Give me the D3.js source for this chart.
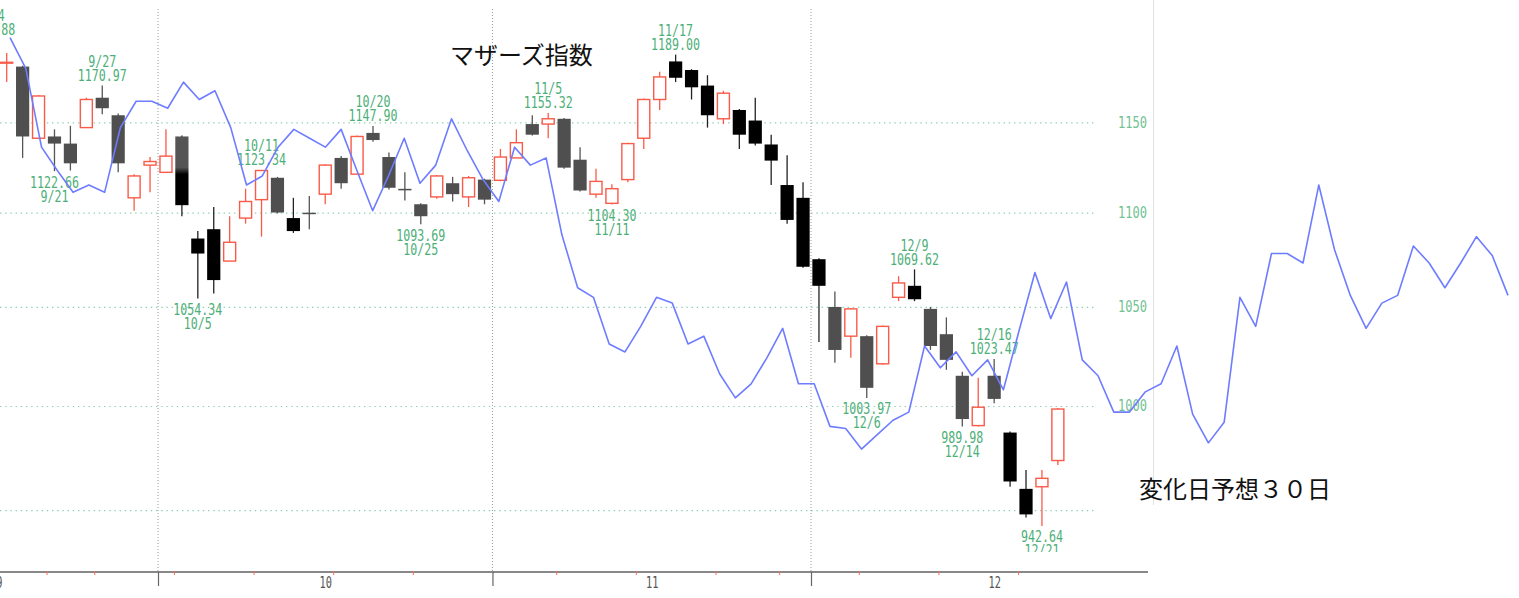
<!DOCTYPE html>
<html><head><meta charset="utf-8">
<script src="https://cdn.jsdelivr.net/npm/d3@7"></script>
<style>html,body{margin:0;padding:0;background:#fff;overflow:hidden}</style>
</head><body><svg id="c" width="1519" height="598"></svg>
<script>
// ---------------- DATA ----------------
const year = 2021;
const dates = ["9/15","9/16","9/17","9/21","9/22","9/24","9/27","9/28","9/29","9/30",
 "10/1","10/4","10/5","10/6","10/7","10/8","10/11","10/12","10/13","10/14","10/15","10/18","10/19","10/20","10/21","10/22","10/25","10/26","10/27","10/28","10/29",
 "11/1","11/2","11/4","11/5","11/8","11/9","11/10","11/11","11/12","11/15","11/16","11/17","11/18","11/19","11/22","11/24","11/25","11/26","11/29","11/30",
 "12/1","12/2","12/3","12/6","12/7","12/8","12/9","12/10","12/13","12/14","12/15","12/16","12/17","12/20","12/21","12/22"];
const opens = [1184,1182,1141,1142,1138,1147,1164,1154,1108,1126,
 1122,1142,1086,1091,1074,1097,1107,1119,1097,1099.5,1110,1130,1121,1144,1130.5,1112.5,1104.5,1108.5,1116,1108.5,1118,
 1117.6,1130,1149,1149,1152,1129,1110,1105,1118,1141,1163,1185,1180,1171,1152,1157,1151,1137.5,1115,1108,
 1075,1050,1035,1035,1021,1055,1061,1049,1036,1015,990.4,1015,987,960,961,973.5];
const highs = [1190,1182.5,1165.5,1146,1148,1164,1170.97,1155,1121,1130.5,
 1146,1142.5,1090,1103,1098,1113,1123.34,1119.5,1108,1109,1126.5,1131,1142.5,1147.90,1133,1122,1105,1120.5,1119.5,1120,1118.5,
 1135,1146,1154,1155.32,1152.5,1136,1124,1115.5,1138.5,1163.5,1179,1189.00,1180.5,1177,1168,1157.5,1164,1143,1131.5,1116.5,
 1075.5,1058,1049.5,1035.5,1040.5,1066,1069.62,1050,1044.6,1017,1014,1023.47,987.5,969,969,999];
const lows = [1173,1130,1141,1122.66,1123,1147,1154.5,1122,1101,1111,
 1122,1098,1054.34,1057,1074,1094,1087,1099.5,1089,1091,1104.5,1113,1121,1139,1112.5,1106.5,1093.69,1107.5,1106,1103,1104.5,
 1117,1130,1142.5,1141,1124,1111.5,1108,1104.30,1116.5,1135,1157,1173,1163,1147,1149,1135,1137,1115,1094,1070.5,
 1032,1021.5,1024,1003.97,1020.5,1053,1053,1028,1018,989.98,990,1001.3,961,946.5,942.64,971.4];
const closes = [1184.5,1142,1165,1138,1127,1163,1158,1127,1120,1128,
 1131,1104,1078,1064,1084,1106,1123,1100,1090,1099,1126,1116,1142,1140,1113.5,1112,1098,1120,1110,1119,1107,
 1130.5,1138.5,1143,1152,1124.6,1112,1117,1113,1138,1163,1176,1175.5,1170,1154,1166.6,1143,1138,1128.5,1096,1071,
 1061,1028,1049,1009,1040,1062.5,1054,1030,1023,993.6,999.4,1003.5,963.5,948,965,998.5];
// forecast line (変化日予想), one value per day from 9/15 onwards
const forecast = [1199,1181,1136,1123,1111,1115,1111,1147,1162,1162,
 1158,1173,1163,1168,1147,1115,1120,1136,1146,1141,
 1136,1146,1123,1101,1120,1141,1116,1126,1152,1134,
 1118,1106,1136,1126,1130,1088,1060,1055,1031,1027,
 1040,1055,1052,1031,1035,1016,1004,1011,1024,1039,
 1011,1011,990,989,979,986,993,997,1030,1019,
 1027,1015,1023,1008,1038,1068,1044,1063,1023,1015,
 997,997,1007,1011,1030,996,982,992,1055,1040,
 1078,1078,1073,1115,1080,1056,1039,1052,1056,1082,
 1073,1060,1073,1087,1077,1056];
const gridValues = [950,1000,1050,1100,1150];
const yLabelValues = [1000,1050,1100,1150];
const monthLabels = ["9","10","11","12"];
const monthTradingDays = [20,21,20,23];
const annoDates  = ["9/14","9/21","9/27","10/5","10/11","10/20","10/25","11/5","11/11","11/17","12/6","12/9","12/14","12/16","12/21"];
const annoValues = ["1197.88","1122.66","1170.97","1054.34","1123.34","1147.90","1093.69","1155.32","1104.30","1189.00","1003.97","1069.62","989.98","1023.47","942.64"];
const annoKinds  = ["H","L","H","L","H","H","L","H","L","H","L","H","L","H","L"];
const titleText = "マザーズ指数";
const noteText = "変化日予想３０日";

// ---------------- STYLE ----------------
const RED = "#fa5a48", BLUE = "#6e7cff", GREEN = "#4daf78", GREEN_L = "#72c293";
const grayCandles = new Set([1,3,4,6,7,17,19,21,23,24,25,26,28,30,33,35,36,52,54,58,59,60,62]);
const mixCandles = new Set([11]);
const MONO = "'DejaVu Sans Mono','Liberation Mono',monospace";

const svg = d3.select("#c");
const defs = svg.append("defs");
const grad = defs.append("linearGradient").attr("id","mix").attr("x1",0).attr("y1",0).attr("x2",0).attr("y2",1);
grad.append("stop").attr("offset","0.45").attr("stop-color","#555");
grad.append("stop").attr("offset","0.55").attr("stop-color","#000");
defs.append("clipPath").attr("id","plotclip").append("rect").attr("x",0).attr("y",0).attr("width",1150).attr("height",552);

// scales
const octStart = dates.indexOf("10/1"), novStart = dates.indexOf("11/1"), decStart = dates.indexOf("12/1");
const x = d3.scaleLinear().domain([octStart, decStart]).range([158, 811]);
const xf = d3.scaleLinear().domain([0, forecast.length - 1]).range([10, 1508]);
const y = d3.scaleLog().domain([1000, 1150]).range([406, 122.3]);

// horizontal gridlines
const gGrid = svg.append("g").call(d3.axisRight(y).tickValues(gridValues).tickSize(1095).tickFormat(""));
gGrid.select(".domain").remove();
gGrid.selectAll("line").attr("stroke", "#8fcfae").attr("stroke-width", 1.2).attr("stroke-dasharray", "1.4,3.8");

// month boundaries
const monthStarts = [octStart, novStart, decStart];
svg.append("g").selectAll("line").data(monthStarts).join("line")
  .attr("x1", d => x(d)).attr("x2", d => x(d)).attr("y1", 9).attr("y2", 572)
  .attr("stroke", "#999").attr("stroke-width", 1).attr("stroke-dasharray", "1,2");

// right separator
svg.append("line").attr("x1",1153.5).attr("x2",1153.5).attr("y1",0).attr("y2",505).attr("stroke","#e2e2e2").attr("stroke-width",1);

// y labels
const gY = svg.append("g").attr("transform","translate(1150,0)")
  .call(d3.axisLeft(y).tickValues(yLabelValues).tickSize(0).tickPadding(3).tickFormat(d3.format("d")));
gY.select(".domain").remove();
gY.selectAll("text").attr("fill", GREEN_L).attr("font-family", MONO).attr("font-size", 15)
  .attr("textLength", 29).attr("lengthAdjust", "spacingAndGlyphs");

// candles
const gC = svg.append("g");
dates.forEach((d, i) => {
  const cx = x(i + 0.5);
  const o = opens[i], c = closes[i], h = highs[i], l = lows[i];
  const up = c >= o;
  const fill = up ? "#fff" : (mixCandles.has(i) ? "url(#mix)" : (grayCandles.has(i) ? "#4f4f4f" : "#000"));
  const wick = up ? RED : (grayCandles.has(i) ? "#555" : "#222");
  gC.append("line").attr("x1", cx).attr("x2", cx).attr("y1", y(h)).attr("y2", y(l))
    .attr("stroke", wick).attr("stroke-width", 1.3);
  if (up) {
    gC.append("rect").attr("x", cx - 6).attr("width", 12)
      .attr("y", y(c)).attr("height", Math.max(y(o) - y(c), 0.6))
      .attr("fill", "#fff").attr("stroke", RED).attr("stroke-width", 1.4);
  } else {
    const hgt = y(c) - y(o);
    gC.append("rect").attr("x", cx - 6.6).attr("width", 13.2)
      .attr("y", hgt < 1.5 ? y(o) - 0.75 : y(o)).attr("height", Math.max(hgt, 1.5))
      .attr("fill", fill);
  }
});

// annotations: one text element per mark, two lines as tspans
const gA = svg.append("g").attr("clip-path", "url(#plotclip)");
annoDates.forEach((d, k) => {
  let idx = dates.indexOf(d);
  if (idx < 0) idx = -1; // trading day before the first candle
  const cx = x(idx + 0.5);
  const v = +annoValues[k];
  const lines = annoKinds[k] === "H"
    ? [[d, y(v) - 24], [annoValues[k], y(v) - 10]]
    : [[annoValues[k], y(v) + 11], [d, y(v) + 25]];
  const t = gA.append("text").attr("text-anchor", "middle")
    .attr("font-family", MONO).attr("font-size", 15).attr("fill", GREEN);
  lines.forEach(([s, cy]) => {
    t.append("tspan").attr("x", cx).attr("y", cy + 5.4)
      .attr("textLength", s.length * 7).attr("lengthAdjust", "spacingAndGlyphs").text(s);
  });
});

// forecast line
svg.append("path").datum(forecast)
  .attr("d", d3.line().x((d, i) => xf(i)).y(d => y(d)))
  .attr("fill", "none").attr("stroke", BLUE).attr("stroke-width", 1.6).attr("stroke-linejoin", "round");

// x axis
svg.append("line").attr("x1", 0).attr("x2", 1148).attr("y1", 572).attr("y2", 572).attr("stroke", "#888").attr("stroke-width", 2);
// weekly minor ticks
const dayObj = dates.map(s => { const [m, dd] = s.split("/").map(Number); return new Date(year, m - 1, dd); });
const weekStarts = dates.map((s, i) => i).filter(i => i > 0 && dayObj[i].getDay() < dayObj[i - 1].getDay() && !monthStarts.includes(i));
const gMin = svg.append("g").attr("transform", "translate(0,571)")
  .call(d3.axisBottom(x).tickValues(weekStarts).tickSize(4).tickFormat(""));
gMin.select(".domain").remove();
gMin.selectAll("line").attr("stroke", "#ff6a5a").attr("stroke-width", 1);
// month major ticks
const gMaj = svg.append("g").attr("transform", "translate(0,572)")
  .call(d3.axisBottom(x).tickValues(monthStarts).tickSize(14).tickFormat(""));
gMaj.select(".domain").remove();
gMaj.selectAll("line").attr("stroke", "#666").attr("stroke-width", 1.2);
// month labels at middle of each month span
let start = octStart - monthTradingDays[0];
const monthMids = monthTradingDays.map(n => { const m = start + n / 2; start += n; return m; });
const gM = svg.append("g").attr("transform", "translate(0,572)")
  .call(d3.axisBottom(x).tickValues(monthMids).tickSize(0).tickPadding(5).tickFormat((d, i) => monthLabels[i]));
gM.select(".domain").remove();
gM.selectAll("text").attr("fill", "#555").attr("font-family", MONO).attr("font-size", 15)
  .each(function(d, i) { d3.select(this).attr("textLength", monthLabels[i].length * 6.2).attr("lengthAdjust", "spacingAndGlyphs"); });

// titles
svg.append("text").attr("x", 450).attr("y", 64).attr("font-family", "'Noto Sans CJK JP'").attr("font-size", 24).attr("fill", "#111").text(titleText);
svg.append("text").attr("x", 1139).attr("y", 498).attr("font-family", "'Noto Sans CJK JP'").attr("font-size", 24).attr("fill", "#111").text(noteText);
</script></body></html>
